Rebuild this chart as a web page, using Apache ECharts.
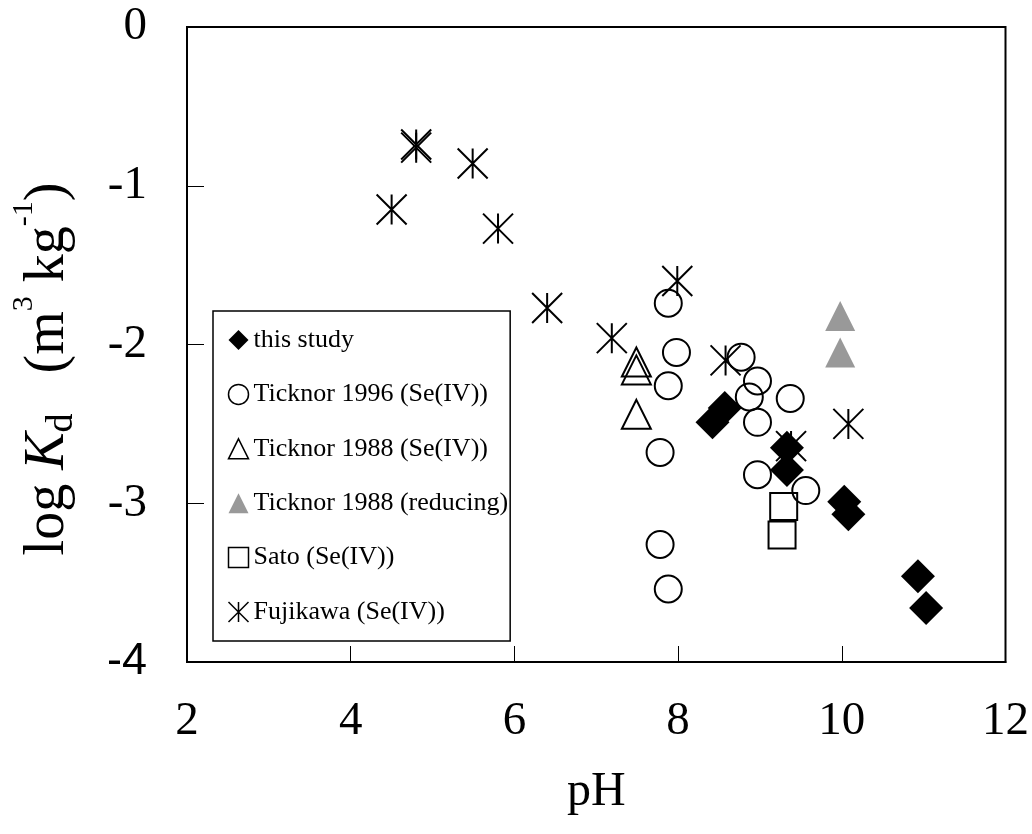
<!DOCTYPE html>
<html>
<head>
<meta charset="utf-8">
<script src="https://cdn.jsdelivr.net/npm/echarts@6/dist/echarts.min.js"></script>
<style>
  html, body { margin: 0; padding: 0; background: #fff; }
  #chart { width: 1032px; height: 834px; }
</style>
</head>
<body>
<div id="chart"></div>
<script>
// Selenium sorption: log Kd versus pH, compiled from several studies
const xTicks = [2, 4, 6, 8, 10, 12];
const yTicks = [0, -1, -2, -3, -4];

const thisStudyPH    = [8.42, 8.57, 9.33, 9.33, 10.03, 10.08, 10.93, 11.03];
const thisStudyLogKd = [-2.49, -2.40, -2.65, -2.79, -2.99, -3.07, -3.46, -3.66];

const ticknor1996PH    = [7.88, 7.98, 7.88, 8.77, 8.97, 8.87, 9.37, 8.97, 7.78, 8.97, 9.56, 7.78, 7.88];
const ticknor1996LogKd = [-1.74, -2.05, -2.26, -2.08, -2.23, -2.33, -2.34, -2.49, -2.68, -2.82, -2.92, -3.26, -3.54];

const ticknor1988PH    = [7.49, 7.49, 7.49];
const ticknor1988LogKd = [-2.11, -2.16, -2.44];

const reducingPH    = [9.98, 9.98];
const reducingLogKd = [-1.82, -2.05];

const satoPH    = [9.29, 9.27];
const satoLogKd = [-3.02, -3.20];

const fujikawaPH    = [4.50, 4.80, 4.80, 5.49, 5.80, 6.40, 7.19, 7.99, 8.58, 9.38, 10.08];
const fujikawaLogKd = [-1.15, -0.74, -0.76, -0.86, -1.27, -1.77, -1.96, -1.60, -2.10, -2.64, -2.50];

const seriesNames = [
  'this study',
  'Ticknor 1996 (Se(IV))',
  'Ticknor 1988 (Se(IV))',
  'Ticknor 1988 (reducing)',
  'Sato (Se(IV))',
  'Fujikawa (Se(IV))'
];

const SERIF = 'Liberation Serif';
// six-armed star: two diagonals plus a vertical bar
const asterisk = 'path://M0,0L20,20M20,0L0,20M10,0L10,20';

function pairs(xs, ys) { return xs.map((x, i) => [x, ys[i]]); }

const chart = echarts.init(document.getElementById('chart'), null, { renderer: 'canvas' });

const open = { color: 'rgba(0,0,0,0)', borderColor: '#000', borderWidth: 2, opacity: 1 };

chart.setOption({
  animation: false,
  backgroundColor: '#fff',
  grid: {
    left: 187, top: 27, width: 819, height: 635,
    show: true, borderColor: '#000', borderWidth: 2, backgroundColor: 'transparent'
  },
  xAxis: {
    type: 'value', min: xTicks[0], max: xTicks[xTicks.length - 1], interval: 2,
    name: 'pH', nameLocation: 'middle', nameGap: 106,
    nameTextStyle: { fontFamily: SERIF, fontSize: 48, color: '#000' },
    axisLine: { show: true, onZero: false, lineStyle: { color: '#000', width: 2 } },
    axisTick: { show: true, inside: true, length: 16, lineStyle: { color: '#000', width: 1 } },
    axisLabel: { margin: 36, fontFamily: SERIF, fontSize: 47, color: '#000' },
    splitLine: { show: false }
  },
  yAxis: {
    type: 'value', min: yTicks[yTicks.length - 1], max: yTicks[0], interval: 1,
    axisLine: { show: true, onZero: false, lineStyle: { color: '#000', width: 2 } },
    axisTick: { show: true, inside: true, length: 17, lineStyle: { color: '#000', width: 1 } },
    axisLabel: {
      margin: 40, fontFamily: SERIF, fontSize: 47, color: '#000',
      formatter: v => (v === -4 ? '{s|-4}' : String(v)),
      rich: { s: { fontFamily: 'Liberation Sans', fontSize: 45, color: '#000' } }
    },
    splitLine: { show: false }
  },
  legend: {
    orient: 'vertical', left: 213, top: 311,
    backgroundColor: '#fff', borderColor: '#000', borderWidth: 1.5, borderRadius: 0,
    padding: [16, 2, 16, 13],
    itemWidth: 20, itemHeight: 20, itemGap: 28.4,
    textStyle: { fontFamily: SERIF, fontSize: 26, color: '#000' },
    data: [
      { name: seriesNames[0], icon: 'diamond', itemStyle: { color: '#000', borderWidth: 0, opacity: 1 } },
      { name: seriesNames[1], icon: 'circle', itemStyle: { color: 'rgba(0,0,0,0)', borderColor: '#000', borderWidth: 1.5 } },
      { name: seriesNames[2], icon: 'triangle', itemStyle: { color: 'rgba(0,0,0,0)', borderColor: '#000', borderWidth: 1.5 } },
      { name: seriesNames[3], icon: 'triangle', itemStyle: { color: '#999999', borderWidth: 0, opacity: 1 } },
      { name: seriesNames[4], icon: 'rect', itemStyle: { color: 'rgba(0,0,0,0)', borderColor: '#000', borderWidth: 1.5 } },
      { name: seriesNames[5], icon: asterisk, itemStyle: { color: 'none', borderColor: '#000', borderWidth: 1.5 } }
    ]
  },
  series: [
    {
      name: seriesNames[5], type: 'scatter', symbol: asterisk, symbolSize: 30,
      itemStyle: { color: 'none', borderColor: '#000', borderWidth: 2, opacity: 1 },
      data: pairs(fujikawaPH, fujikawaLogKd)
    },
    {
      name: seriesNames[1], type: 'scatter', symbol: 'circle', symbolSize: 27,
      itemStyle: open, data: pairs(ticknor1996PH, ticknor1996LogKd)
    },
    {
      name: seriesNames[2], type: 'scatter', symbol: 'triangle', symbolSize: 29,
      itemStyle: open, data: pairs(ticknor1988PH, ticknor1988LogKd)
    },
    {
      name: seriesNames[3], type: 'scatter', symbol: 'triangle', symbolSize: 30,
      itemStyle: { color: '#999999', borderWidth: 0, opacity: 1 }, data: pairs(reducingPH, reducingLogKd)
    },
    {
      name: seriesNames[4], type: 'scatter', symbol: 'rect', symbolSize: 27,
      itemStyle: open, data: pairs(satoPH, satoLogKd)
    },
    {
      name: seriesNames[0], type: 'scatter', symbol: 'diamond', symbolSize: 34,
      itemStyle: { color: '#000', borderWidth: 0, opacity: 1 }, data: pairs(thisStudyPH, thisStudyLogKd)
    }
  ],
  graphic: [
    {
      // y-axis title, read bottom to top
      type: 'text', x: 48, y: 369, rotation: Math.PI / 2,
      style: {
        text: 'log {i|K}{sub|d}{gap|}(m{sup|3} kg{sup|-1})',
        fontFamily: SERIF, fontSize: 56, fill: '#000',
        align: 'center', verticalAlign: 'middle',
        rich: {
          i: { fontFamily: SERIF, fontSize: 56, fontStyle: 'italic', fill: '#000' },
          sub: { fontFamily: SERIF, fontSize: 38, fill: '#000', padding: [29, 0, 0, 0] },
          gap: { width: 40 },
          sup: { fontFamily: SERIF, fontSize: 30, fill: '#000', padding: [0, 0, 48, 0] }
        }
      }
    }
  ]
});
</script>
</body>
</html>
